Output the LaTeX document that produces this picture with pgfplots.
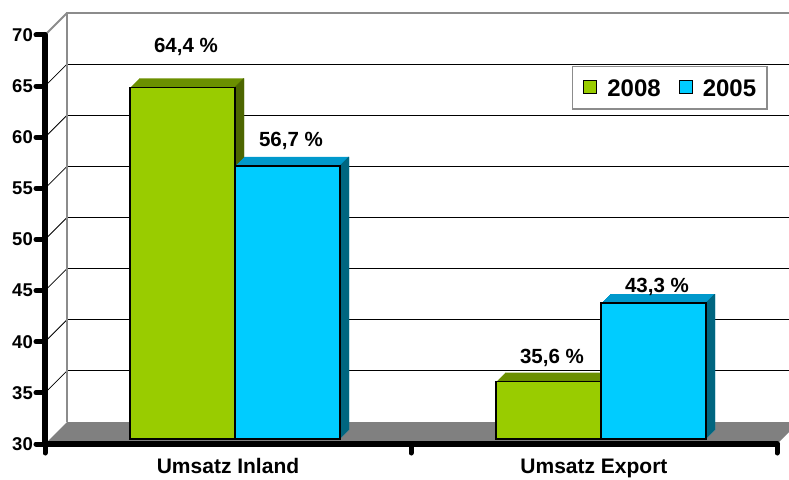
\documentclass[border=0pt]{standalone}
\usepackage{pgfplots}
\pgfplotsset{compat=1.18}
\usepackage{pgfplotstable}
\usepackage{fontspec}
\setmainfont{Liberation Sans}
\definecolor{gfront}{RGB}{153,204,0}
\definecolor{gtop}{RGB}{107,143,0}
\definecolor{gside}{RGB}{77,102,0}
\definecolor{bfront}{RGB}{0,204,255}
\definecolor{btop}{RGB}{0,153,204}
\definecolor{bside}{RGB}{0,102,128}
\definecolor{wallgray}{RGB}{140,140,140}
\definecolor{floorgray}{RGB}{128,128,128}
\pgfplotstableread{
x y dy
0 64.4 35
1 35.6 18
}\greendata
\pgfplotstableread{
x y dy
0 56.7 19
1 43.3 11
}\bluedata
\newcommand{\tickfont}{\fontsize{18.5}{21}\selectfont\bfseries}
\newcommand{\catfont}{\fontsize{21}{25}\selectfont\bfseries}
\newcommand{\labfont}{\fontsize{20.5}{24}\selectfont\bfseries}
\newcommand{\legfont}{\fontsize{24}{28}\selectfont\bfseries}
\begin{document}
\begin{tikzpicture}[x=1pt,y=1pt]
\useasboundingbox (0,0) rectangle (789,479);
% ---------- back wall, grid and floor ----------
\begin{axis}[at={(67pt,57pt)}, anchor=south west, scale only axis,
  width=732pt, height=409pt,
  xmin=-0.5, xmax=1.5, ymin=30, ymax=70, clip=false,
  axis line style={draw=none}, xtick=\empty,
  ytick={35,40,...,65}, yticklabels={}, major tick length=0pt,
  ytick style={draw=none},
  ymajorgrids, major grid style={black, line width=0.8pt}]
  \fill[floorgray] (rel axis cs:0,0) -- ++(-22pt,-22pt) -- ++(732pt,0pt) -- (rel axis cs:1,0) -- cycle;
  \pgfplotsinvokeforeach{0.125,0.25,0.375,0.5,0.625,0.75,0.875}{
    \draw[black, line width=0.8pt] (rel axis cs:0,#1) -- ++(-22pt,-22pt);
  }
  \draw[wallgray, line width=2pt] (rel axis cs:0,0) -- (rel axis cs:0,1) -- (rel axis cs:1,1);
  \draw[wallgray, line width=2pt] (rel axis cs:0,1) -- ++(-22pt,-22pt);
\end{axis}
% ---------- bars ----------
\begin{axis}[at={(52pt,40pt)}, anchor=south west, scale only axis,
  width=732pt, height=409pt,
  xmin=-0.5, xmax=1.5, ymin=30, ymax=70, hide axis,
  legend style={at={(0.978,0.912)}, anchor=north east, draw=wallgray,
    line width=1.5pt, fill=white, font=\legfont, text=black,
    inner xsep=11pt, inner ysep=12.5pt,
    nodes={inner sep=0pt, text height=17.2pt, text depth=0pt},
    /tikz/every odd column/.append style={column sep=10pt},
    /tikz/every even column/.append style={column sep=18pt}},
  legend columns=2,
  legend image code/.code={\draw[#1, draw=black, line width=1pt] (0pt,-5.9pt) rectangle (13pt,7.4pt);}]
  % green extrusion (top colour)
  \pgfplotsinvokeforeach{1,...,9}{
    \addplot[forget plot, ybar, bar width=105pt, bar shift=-52.5pt, fill=gtop, draw=none,
      xshift=#1pt, yshift=#1pt] table[x=x,y=y]{\greendata};
  }
  % green side strips
  \pgfplotsinvokeforeach{1,...,9}{
    \addplot[forget plot, ybar, bar width=1.2pt, bar shift=#1pt-0.5pt, fill=gside, draw=none,
      yshift=#1pt] table[x=x,y=y]{\greendata};
  }
  \addplot[ybar, bar width=105pt, bar shift=-52.5pt, fill=gfront, draw=black, line width=1.5pt,
    visualization depends on={\thisrow{dy} \as \dy},
    nodes near coords={\pgfmathprintnumber[fixed, fixed zerofill, precision=1, use comma, assume math mode=true]{\pgfplotspointmeta}\ \%},
    every node near coord/.append style={anchor=base, yshift=\dy pt, xshift=-49pt, font=\labfont, text=black}]
    table[x=x,y=y]{\greendata};
  \addlegendentry{2008}
  % blue extrusion
  \pgfplotsinvokeforeach{1,...,9}{
    \addplot[forget plot, ybar, bar width=105pt, bar shift=52.5pt, fill=btop, draw=none,
      xshift=#1pt, yshift=#1pt] table[x=x,y=y]{\bluedata};
  }
  \pgfplotsinvokeforeach{1,...,9}{
    \addplot[forget plot, ybar, bar width=1.2pt, bar shift=105pt+#1pt-0.5pt, fill=bside, draw=none,
      yshift=#1pt] table[x=x,y=y]{\bluedata};
  }
  \addplot[ybar, bar width=105pt, bar shift=52.5pt, fill=bfront, draw=black, line width=1.5pt,
    visualization depends on={\thisrow{dy} \as \dy},
    nodes near coords={\pgfmathprintnumber[fixed, fixed zerofill, precision=1, use comma, assume math mode=true]{\pgfplotspointmeta}\ \%},
    every node near coord/.append style={anchor=base, yshift=\dy pt, xshift=56pt, font=\labfont, text=black}]
    table[x=x,y=y]{\bluedata};
  \addlegendentry{2005}
\end{axis}
% ---------- front axis lines ----------
\begin{axis}[at={(45pt,35pt)}, anchor=south west, scale only axis,
  width=732pt, height=409pt,
  xmin=-0.5, xmax=1.5, ymin=30, ymax=70,
  axis lines=left, axis line style={-, line width=6pt, line cap=round, black},
  ytick={30,35,...,70},
  xtick={-0.5,0.5,1.5}, x tick label as interval,
  xticklabels={Umsatz Inland, Umsatz Export},
  tick align=outside, major tick length=9pt,
  tick style={line width=5pt, line cap=round, black},
  /pgf/number format/assume math mode=true,
  yticklabel style={font=\tickfont, anchor=east, inner sep=0pt, xshift=-3pt},
  xticklabel style={font=\catfont, anchor=base, yshift=-20.5pt}]
\end{axis}
\end{tikzpicture}
\end{document}
